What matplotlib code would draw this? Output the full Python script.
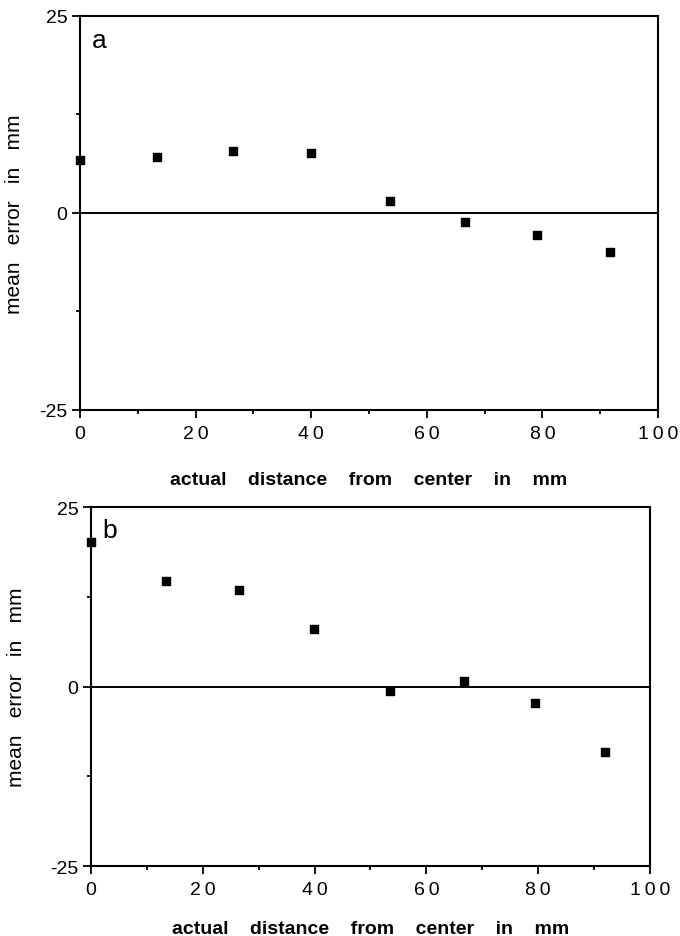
import matplotlib.pyplot as plt
from matplotlib.ticker import MultipleLocator, FixedLocator

plt.rcParams["font.family"] = ["Liberation Sans", "DejaVu Sans"]

# distance from centre (mm) and mean error (mm) for the two conditions
dist_a = [0, 13.4, 26.4, 39.9, 53.6, 66.7, 79.1, 91.7]
err_a = [6.7, 7.1, 7.9, 7.65, 1.5, -1.1, -2.85, -5.0]

dist_b = [0, 13.4, 26.5, 39.9, 53.5, 66.7, 79.4, 92.0]
err_b = [20.2, 14.7, 13.4, 8.0, -0.6, 0.8, -2.3, -9.1]

x_ticks = [0, 20, 40, 60, 80, 100]
y_ticks = [-25, 0, 25]

XLABEL = "actual    distance    from    center    in    mm"
YLABEL = "mean   error   in   mm"


def draw_panel(ax, x, y, letter, ylab_x, xlab_y):
    ax.set_xlim(0, 100)
    ax.set_ylim(-25, 25)
    ax.axhline(0, color="black", lw=1.4, zorder=2)
    ax.scatter(x, y, marker="s", s=26, color="black", zorder=3, clip_on=False)

    for side in ("top", "right", "left", "bottom"):
        ax.spines[side].set_linewidth(1.5)

    ax.xaxis.set_major_locator(FixedLocator(x_ticks))
    ax.xaxis.set_minor_locator(MultipleLocator(10))
    ax.yaxis.set_major_locator(FixedLocator(y_ticks))
    ax.yaxis.set_minor_locator(MultipleLocator(12.5))
    ax.tick_params(which="major", direction="out", length=6, width=1.3)
    ax.tick_params(which="minor", direction="out", length=3, width=1.3)
    ax.tick_params(axis="x", which="major", labelsize=14, pad=5)
    ax.tick_params(axis="y", which="major", labelsize=14, pad=3)
    ax.set_xticklabels(["\u2009".join(str(t)) for t in x_ticks])
    ax.set_yticklabels([str(t) for t in y_ticks])  # plain hyphen for -25

    ax.set_xlabel(XLABEL, fontsize=14, fontweight="bold")
    ax.xaxis.set_label_coords(0.5, xlab_y)
    ax.set_ylabel(YLABEL, fontsize=15)
    ax.yaxis.set_label_coords(ylab_x, 0.5)
    ax.text(0.02, 0.97, letter, transform=ax.transAxes, fontsize=19,
            va="top", ha="left")


fig = plt.figure(figsize=(6.8, 9.37), dpi=100)
ax_a = fig.add_axes([0.1176, 0.5614, 0.850, 0.4205])
ax_b = fig.add_axes([0.1338, 0.0747, 0.822, 0.3830])

draw_panel(ax_a, dist_a, err_a, "a", -0.097, -0.155)
draw_panel(ax_b, dist_b, err_b, "b", -0.116, -0.150)

fig.savefig("out.png", dpi=100)
